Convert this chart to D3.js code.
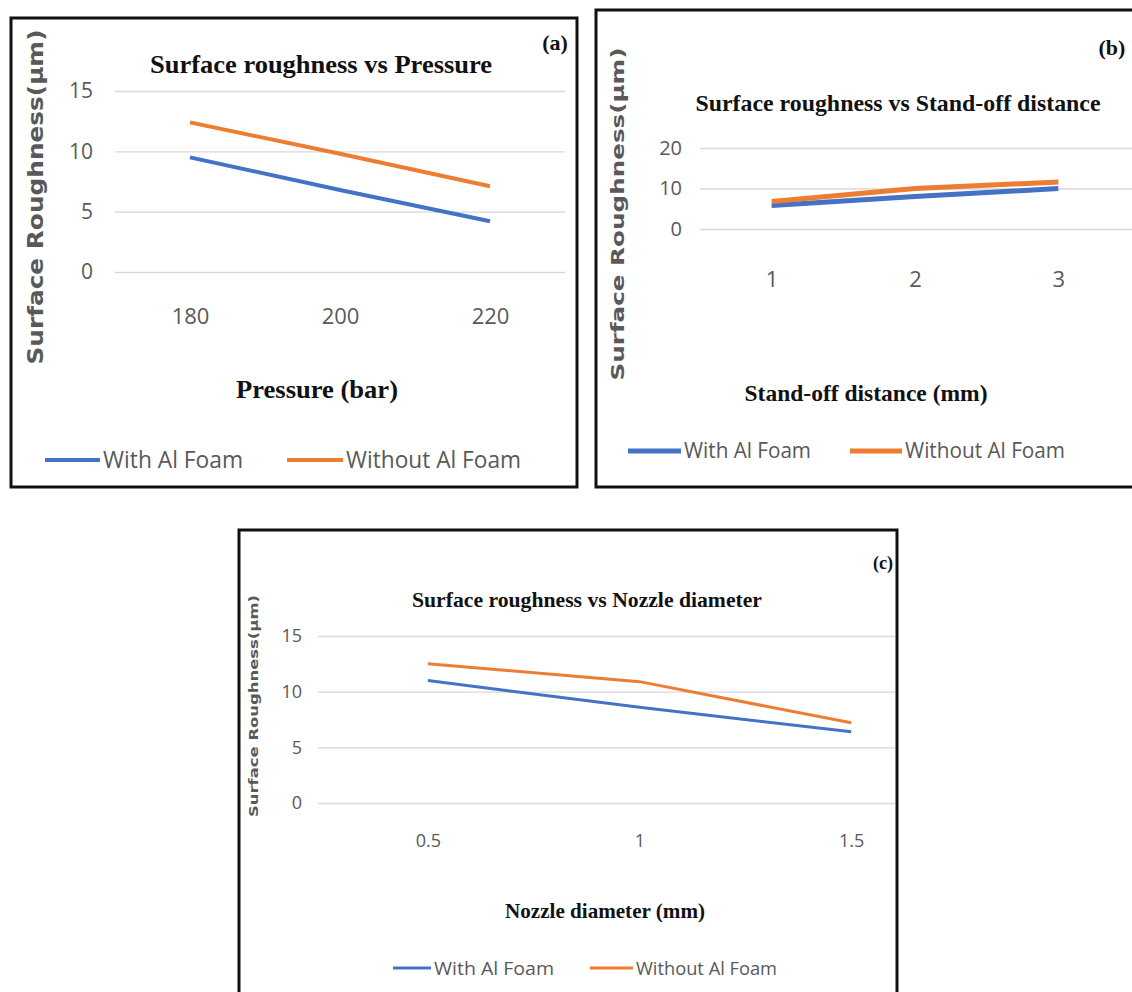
<!DOCTYPE html>
<html lang="en">
<head>
<meta charset="utf-8">
<title>Surface roughness charts</title>
<script src="https://cdn.jsdelivr.net/npm/d3@7"></script>
<style>
  body { margin: 0; background: #fff; }
  svg text { fill: #595959; }
</style>
</head>
<body>
<script>
// data
var seriesNames = ["With Al Foam", "Without Al Foam"];
var seriesColors = ["#4472C4", "#ED7D31"];

var pressure = ["180", "200", "220"];
var pressureWith = [9.5, 6.8, 4.2];
var pressureWithout = [12.4, 9.8, 7.1];
var pressureTicks = [0, 5, 10, 15];

var standoff = ["1", "2", "3"];
var standoffWith = [5.8, 8.0, 10.0];
var standoffWithout = [6.8, 10.0, 11.6];
var standoffTicks = [0, 10, 20];

var nozzle = ["0.5", "1", "1.5"];
var nozzleWith = [11.0, 8.6, 6.4];
var nozzleWithout = [12.5, 10.9, 7.2];
var nozzleTicks = [0, 5, 10, 15];

var w = 1132, h = 992;
var svg = d3.select("body").append("svg").attr("width", w).attr("height", h);

function serifText(g, t, len) {
  var el = g.append("text").attr("x", t[1]).attr("y", t[2])
    .attr("text-anchor", "middle")
    .attr("font-family", "Liberation Serif").attr("font-weight", "bold")
    .attr("font-size", t[3]).style("fill", "#111")
    .text(t[0]);
  if (len) el.attr("textLength", len).attr("lengthAdjust", "spacingAndGlyphs");
  return el;
}

function drawPanel(p) {
  var g = svg.append("g");

  // frame
  g.append("rect")
    .attr("x", p.frame[0]).attr("y", p.frame[1])
    .attr("width", p.frame[2]).attr("height", p.frame[3])
    .attr("fill", "none").attr("stroke", "#111").attr("stroke-width", 3);

  var x = d3.scalePoint().domain(p.cats).range(p.xRange).padding(0.5);
  var y = d3.scaleLinear().domain([0, p.yMax]).range(p.yRange);

  // gridlines + y labels
  var ya = g.append("g")
    .attr("transform", "translate(" + p.grid[0] + ",0)")
    .call(d3.axisLeft(y).tickValues(p.ticks).tickSize(-(p.grid[1] - p.grid[0])).tickPadding(p.yPad));
  ya.select(".domain").remove();
  ya.selectAll("line").attr("stroke", "#d9d9d9").attr("stroke-width", 1.3);
  ya.selectAll("text").attr("font-family", "Open Sans").attr("font-size", p.tickSize).attr("fill", "#595959");

  // x labels
  var xa = g.append("g")
    .attr("transform", "translate(0," + p.yRange[0] + ")")
    .call(d3.axisBottom(x).tickSize(0).tickPadding(p.xPad));
  xa.select(".domain").remove();
  xa.selectAll("text").attr("font-family", "Open Sans").attr("font-size", p.xTickSize).attr("fill", "#595959");

  // lines
  var line = d3.line().x(function(d, i) { return x(p.cats[i]); }).y(function(d) { return y(d); });
  [p.s1, p.s2].forEach(function(s, i) {
    g.append("path").datum(s)
      .attr("d", line)
      .attr("fill", "none")
      .attr("stroke", seriesColors[i])
      .attr("stroke-width", p.lineW);
  });

  serifText(g, p.title, p.titleLen);
  serifText(g, p.tag);
  serifText(g, p.xTitle, p.xTitleLen);

  // y axis title
  g.append("text")
    .attr("transform", "translate(" + p.yTitle[0] + "," + p.yTitle[1] + ") rotate(-90)")
    .attr("text-anchor", "middle")
    .attr("font-family", "DejaVu Sans").attr("font-weight", "bold")
    .attr("font-size", p.yTitle[2])
    .attr("textLength", p.yTitle[3]).attr("lengthAdjust", "spacingAndGlyphs")
    .style("fill", "#595959")
    .text("Surface Roughness(µm)");

  // legend
  seriesNames.forEach(function(name, i) {
    var lx = p.legend[i];
    g.append("line").attr("x1", lx[0]).attr("x2", lx[1])
      .attr("y1", p.legendY).attr("y2", p.legendY)
      .attr("stroke", seriesColors[i]).attr("stroke-width", p.lineW);
    g.append("text").attr("x", lx[1] + 3).attr("y", p.legendY)
      .attr("dy", "0.35em")
      .attr("font-family", "Open Sans").attr("font-size", p.legendSize)
      .attr("textLength", lx[2]).attr("lengthAdjust", "spacingAndGlyphs")
      .style("fill", "#595959")
      .text(name);
  });
}

drawPanel({
  frame: [11, 18, 566, 469],
  cats: pressure, s1: pressureWith, s2: pressureWithout,
  ticks: pressureTicks, yMax: 15,
  xRange: [115, 565], yRange: [272, 91], grid: [115, 565],
  yPad: 22, xPad: 36, tickSize: 21, xTickSize: 22,
  lineW: 4,
  title: ["Surface roughness vs Pressure", 321, 73, 26], titleLen: 342,
  tag: ["(a)", 555, 50, 22],
  xTitle: ["Pressure (bar)", 317, 398, 26], xTitleLen: 162,
  yTitle: [43, 197, 21, 335],
  legend: [[45, 100, 140], [287, 343, 175]], legendY: 460, legendSize: 23
});

drawPanel({
  frame: [596, 10, 540, 477],
  cats: standoff, s1: standoffWith, s2: standoffWithout,
  ticks: standoffTicks, yMax: 20,
  xRange: [700, 1130], yRange: [229, 148], grid: [700, 1132],
  yPad: 18, xPad: 42, tickSize: 20, xTickSize: 22,
  lineW: 5,
  title: ["Surface roughness vs Stand-off distance", 898, 111, 24], titleLen: 405,
  tag: ["(b)", 1112, 55, 22],
  xTitle: ["Stand-off distance (mm)", 866, 401, 24], xTitleLen: 243,
  yTitle: [624, 214, 17, 333],
  legend: [[628, 681, 127], [850, 902, 160]], legendY: 451, legendSize: 21
});

drawPanel({
  frame: [239, 530, 658, 480],
  cats: nozzle, s1: nozzleWith, s2: nozzleWithout,
  ticks: nozzleTicks, yMax: 15,
  xRange: [322, 957], yRange: [803, 636], grid: [318, 895],
  yPad: 16, xPad: 31, tickSize: 18, xTickSize: 18,
  lineW: 3,
  title: ["Surface roughness vs  Nozzle diameter", 587, 607, 21], titleLen: 350,
  tag: ["(c)", 883, 569, 18],
  xTitle: ["Nozzle diameter (mm)", 605, 918, 21], xTitleLen: 200,
  yTitle: [258, 706, 13, 222],
  legend: [[393, 431, 120], [590, 633, 141]], legendY: 968, legendSize: 19
});
</script>
</body>
</html>
